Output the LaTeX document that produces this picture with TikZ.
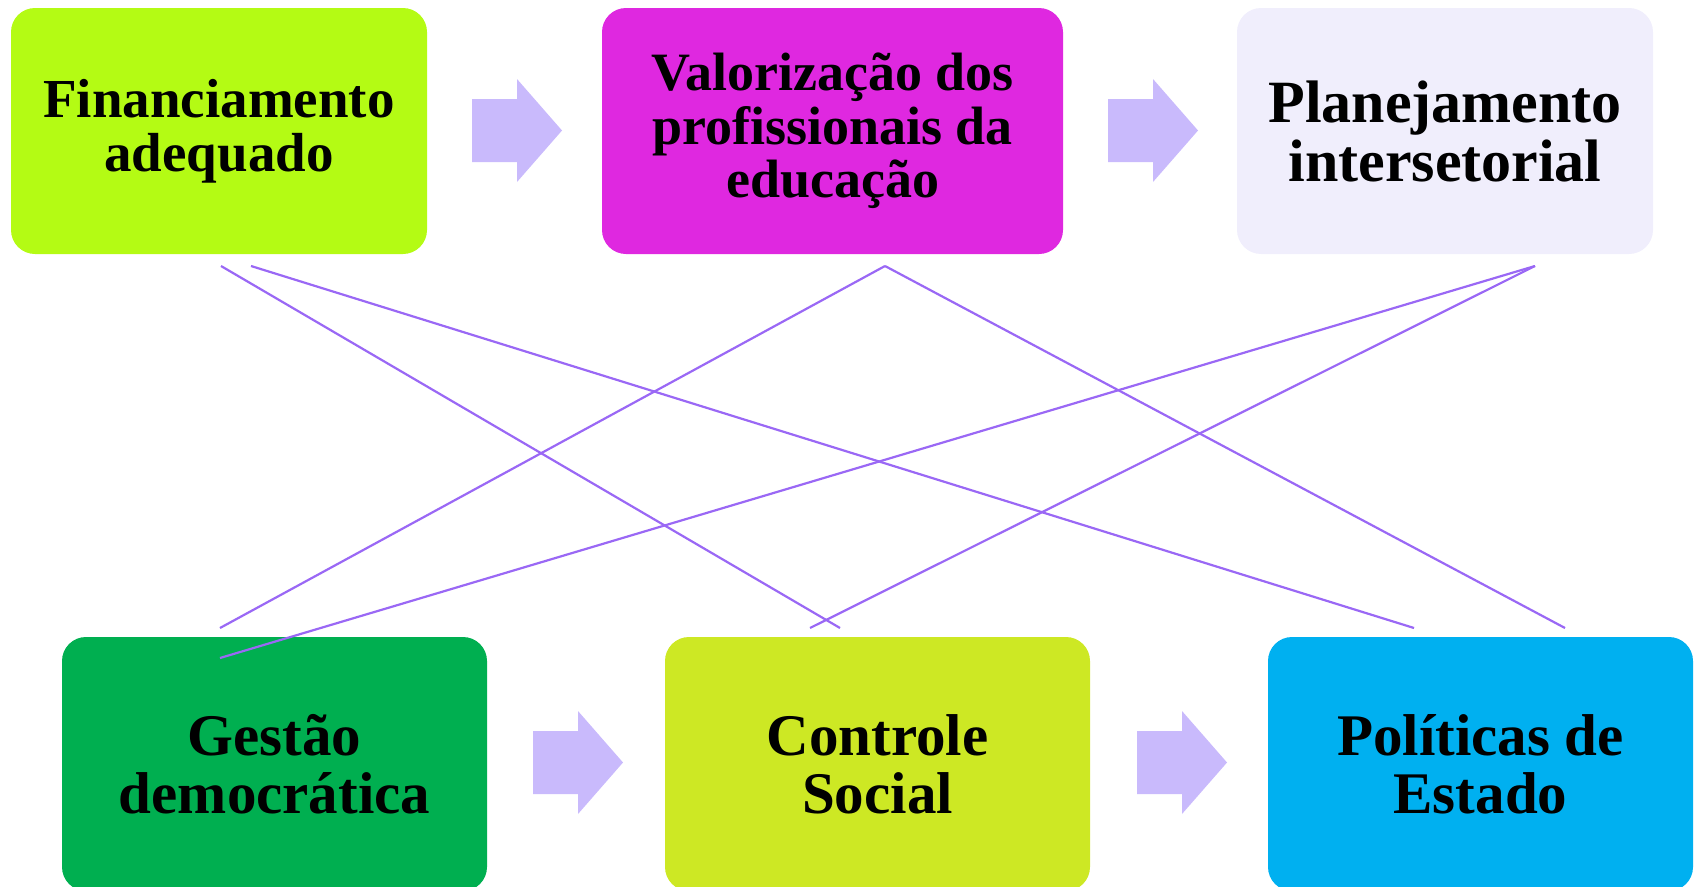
\documentclass[tikz,border=0pt]{standalone}
\usepackage{fontspec}
\setmainfont{Liberation Serif}
\definecolor{cLime}{HTML}{B4FB14}
\definecolor{cMagenta}{HTML}{DF28E0}
\definecolor{cLav}{HTML}{F0EEFC}
\definecolor{cGreen}{HTML}{00AF50}
\definecolor{cYel}{HTML}{CDE824}
\definecolor{cSky}{HTML}{00B0F0}
\definecolor{cArrow}{HTML}{C9BAFC}
\definecolor{cLine}{HTML}{9A68F5}
\newcommand{\fsz}[2]{\fontsize{#1}{#2}\selectfont\bfseries}
\tikzset{
  box/.style={draw=none, rounded corners=24pt, inner sep=0pt, align=center,
    minimum height=246pt, text=black},
  topbox/.style={box, minimum width=416pt},
  botbox/.style={box, minimum width=425pt, minimum height=254pt, font=\fsz{59}{58}},
  link/.style={draw=cLine, line width=2.2pt},
  blockarrow/.pic={\fill[cArrow] (0,20) -- (45,20) -- (45,0) -- (90,51.5) -- (45,103) -- (45,83) -- (0,83) -- cycle;}
}
\begin{document}
\begin{tikzpicture}[x=1pt,y=-1pt]
\useasboundingbox (0,0) rectangle (1696,886);
\clip (0,0) rectangle (1696,886);
% boxes
\node[topbox, fill=cLime, font=\fsz{55}{54}] (fin) at (219,131) {Financiamento\\adequado};
\node[topbox, fill=cMagenta, minimum width=461pt, font=\fsz{54}{53.5}] (val) at (832.5,131) {Valorização dos\\profissionais da\\educação};
\node[topbox, fill=cLav, font=\fsz{60}{59}] (pla) at (1445,131) {Planejamento\\intersetorial};
\node[botbox, fill=cGreen] (ges) at (274.5,764) {Gestão\\democrática};
\node[botbox, fill=cYel] (con) at (877.5,764) {Controle\\Social};
\node[botbox, fill=cSky] (pol) at (1480.5,764) {Políticas de\\Estado};
% block arrows
\pic at (472,79) {blockarrow};
\pic at (1108,79) {blockarrow};
\pic at (533,711) {blockarrow};
\pic at (1137,711) {blockarrow};
% connector end points
\coordinate (finA) at (221,266);
\coordinate (finB) at (251,266);
\coordinate (valA) at (885,266);
\coordinate (plaA) at (1535,266);
\coordinate (gesA) at (220,628);
\coordinate (gesB) at (220,658);
\coordinate (conA) at (810,628);
\coordinate (conB) at (840,628);
\coordinate (polA) at (1414,628);
\coordinate (polB) at (1565,628);
% connectors
\draw[link] (finA) -- (conB);
\draw[link] (finB) -- (polA);
\draw[link] (valA) -- (gesA);
\draw[link] (valA) -- (polB);
\draw[link] (plaA) -- (gesB);
\draw[link] (plaA) -- (conA);
\end{tikzpicture}
\end{document}
